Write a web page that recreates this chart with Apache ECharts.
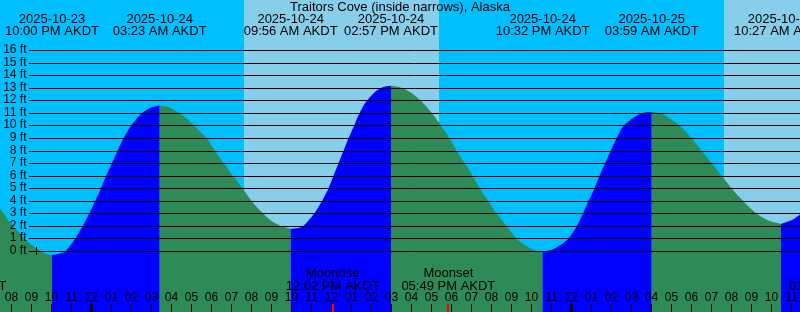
<!DOCTYPE html>
<html><head><meta charset="utf-8">
<script src="https://cdn.jsdelivr.net/npm/echarts@6/dist/echarts.min.js"></script>
<style>html,body{margin:0;padding:0;background:#00BFFF}#c{width:800px;height:312px}</style>
</head><body><div id="c"></div>
<script>
// ---- data (hours relative to 2025-10-24 00:00 AKDT, heights in ft) ----
const chartTitle = 'Traitors Cove (inside narrows), Alaska';
const tideHours = [-4.6,-4.1,-3.6,-3.1,-2.6,-2.3,-1.7,-1.35,-0.85,-0.47,-0.14,0.15,0.44,0.7,0.99,1.27,1.57,1.94,2.45,2.9,
  3.9,4.4,4.9,5.4,5.75,6.15,6.6,7.05,7.54,7.99,8.57,9.0,9.49,
  10.3,10.55,11.1,11.49,11.82,12.07,12.32,12.57,12.82,13.1,13.37,13.74,14.4,
  15.4,15.9,16.45,17.0,17.46,17.88,18.24,18.65,19.04,19.4,19.82,20.24,20.74,21.24,21.8,22.2,
  23.0,23.4,23.8,24.24,24.54,24.82,25.12,25.37,25.65,25.93,26.22,26.57,27.4,
  28.5,29.4,29.99,30.49,30.99,31.49,31.99,32.57,33.24,33.85,
  35.0,35.4];
const tideFeet = [3.45,2.33,1.41,0.61,0.08,-0.18,-0.2,0.0,1.0,2.0,3.0,4.0,5.0,6.0,7.0,8.0,9.0,10.0,10.95,11.42,
  11.45,10.98,10.35,9.55,9.0,8.0,7.0,6.0,5.0,4.0,3.0,2.4,2.0,
  1.87,2.0,3.0,4.0,5.0,6.0,7.0,8.0,9.0,10.0,11.0,12.0,13.0,
  13.08,12.7,12.0,11.0,10.0,9.0,8.0,7.0,6.0,5.0,4.0,3.0,2.0,1.0,0.35,0.05,
  0.15,0.5,1.0,2.0,3.0,4.0,5.0,6.0,7.0,8.0,9.0,10.0,10.95,
  10.95,10.0,9.0,8.0,7.0,6.0,5.0,4.0,3.0,2.45,
  2.5,2.95];
const extremeHours = [-2.0, 3.383, 9.933, 14.95, 22.533, 27.983, 34.45];
const extremeFeet  = [-0.28, 11.62, 1.8, 13.2, -0.05, 11.1, 2.2];
const extremeDates = ['2025-10-23','2025-10-24','2025-10-24','2025-10-24','2025-10-24','2025-10-25','2025-10-25'];
const extremeTimes = ['10:00 PM AKDT','03:23 AM AKDT','09:56 AM AKDT','02:57 PM AKDT','10:32 PM AKDT','03:59 AM AKDT','10:27 AM AKDT'];
const dayStartHours = [7.6, 31.6];
const dayEndHours   = [17.35, 41.3];
const levelFeet = [0,1,2,3,4,5,6,7,8,9,10,11,12,13,14,15,16];
const hourTicks = [-4,-3,-2,-1,0,1,2,3,4,5,6,7,8,9,10,11,12,13,14,15,16,17,18,19,20,21,22,23,24,25,26,27,28,29,30,31,32,33,34,35];
const hourLabels = ['08','09','10','11','12','01','02','03','04','05','06','07','08','09','10','11',
  '12','01','02','03','04','05','06','07','08','09','10','11',
  '12','01','02','03','04','05','06','07','08','09','10','11'];
const midnightHours = [0, 24];
const moonHours = [-6.63, 12.033, 17.817, 37.2];
const moonNames = ['Moonset','Moonrise','Moonset','Moonrise'];
const moonTimes = ['05:22 PM AKDT','12:02 PM AKDT','05:49 PM AKDT','01:12 PM AKDT'];
const markerHours = [-2.775];

// ---- styles ----
const FONT = '"Liberation Sans", Arial, sans-serif';
const NIGHT = '#00BFFF', DAY = '#87CEEB', RISE = '#0000FF', FALL = '#2E8B57';
function txt(x, y, s, size, align) {
  return {type:'text', x:x, y:y, style:{text:s, fill:'#000', font:size+'px '+FONT, align:align||'center', verticalAlign:'middle'}};
}

// build tide segments (rising = blue, falling = green)
const pts = tideHours.map((h,i)=>[h, tideFeet[i]])
  .concat(extremeHours.map((h,i)=>[h, extremeFeet[i]]))
  .sort((a,b)=>a[0]-b[0]);
const bps = [pts[0][0]].concat(extremeHours, [pts[pts.length-1][0]]);
const tideSeries = [];
for (let i = 0; i < bps.length-1; i++) {
  const seg = pts.filter(p => p[0] >= bps[i] && p[0] <= bps[i+1]);
  const rising = seg[seg.length-1][1] > seg[0][1];
  tideSeries.push({
    type:'line', data: seg, showSymbol:false, symbol:'none', smooth:0.3, z:2, silent:true,
    lineStyle:{width:0, opacity:0},
    areaStyle:{color: rising ? RISE : FALL, opacity:1, origin:'start'}
  });
}

const chart = echarts.init(document.getElementById('c'), null, {width:800, height:312});
chart.setOption({
  animation:false,
  backgroundColor: NIGHT,
  title:{text:chartTitle, left:'center', top:1, padding:0,
    textStyle:{fontFamily:FONT, fontSize:13, fontWeight:'normal', color:'#000'}},
  grid:{left:0, right:0, top:0, bottom:0, containLabel:false},
  xAxis:{type:'value', min:-4.6, max:35.4, show:false},
  yAxis:{type:'value', min:-4.816, max:20.02, show:false},
  series: [
    { // daylight bands
      type:'custom', z:1, silent:true, clip:false,
      data: dayStartHours.map((s,i)=>[s, dayEndHours[i]]),
      renderItem:(p, api)=>{
        const x1 = api.coord([api.value(0),0])[0], x2 = api.coord([api.value(1),0])[0];
        return {type:'rect', shape:{x:Math.round(x1), y:0, width:Math.round(x2)-Math.round(x1), height:312}, style:{fill:DAY}};
      }
    }
  ].concat(tideSeries, [
    { // level lines + labels
      type:'custom', z:3, silent:true, clip:false,
      data: levelFeet.map(k=>[0,k]),
      renderItem:(p, api)=>{
        const k = api.value(1);
        const y = Math.floor(api.coord([0,k])[1]) + 0.5;
        return {type:'group', children:[
          {type:'line', shape:{x1:29, y1:y, x2:800, y2:y}, style:{stroke:'#000', lineWidth:1}},
          txt(26.5, y-1, k+' ft', 12, 'right')
        ]};
      }
    },
    { // marker
      type:'custom', z:3, silent:true, clip:false,
      data: markerHours.map(h=>[h,0]),
      renderItem:(p, api)=>{
        const c = api.coord([api.value(0),0]);
        const x = Math.round(c[0]) - 0.5;
        return {type:'line', shape:{x1:x, y1:c[1]-4.5, x2:x, y2:c[1]+3.5}, style:{stroke:'#000', lineWidth:1}};
      }
    },
    { // hour ticks + labels
      type:'custom', z:4, silent:true, clip:false,
      data: hourTicks.map((h,i)=>[h,i]),
      renderItem:(p, api)=>{
        const h = api.value(0), i = api.value(1);
        const x = Math.round(api.coord([h,0])[0]) - 0.5;
        const mid = midnightHours.indexOf(h) >= 0;
        return {type:'group', children:[
          {type:'line', shape:{x1:x, y1:304, x2:x, y2:312}, style:{stroke:'#000', lineWidth: mid?3:1}},
          txt(x, 297.5, hourLabels[i], 12)
        ]};
      }
    },
    { // moon events
      type:'custom', z:5, silent:true, clip:false,
      data: moonHours.map((h,i)=>[h,i]),
      renderItem:(p, api)=>{
        const h = api.value(0), i = api.value(1);
        const px = api.coord([h,0])[0];
        const x = Math.round(px);
        return {type:'group', children:[
          {type:'line', shape:{x1:x, y1:304, x2:x, y2:312}, style:{stroke:'#FF0000', lineWidth:2}},
          txt(px, 273.5, moonNames[i], 13),
          txt(px, 286, moonTimes[i], 13)
        ]};
      }
    },
    { // tide extreme labels
      type:'custom', z:5, silent:true, clip:false,
      data: extremeHours.map((h,i)=>[h,i]),
      renderItem:(p, api)=>{
        const h = api.value(0), i = api.value(1);
        const px = api.coord([h,0])[0];
        return {type:'group', children:[
          txt(px, 19.5, extremeDates[i], 13),
          txt(px, 31.5, extremeTimes[i], 13)
        ]};
      }
    }
  ])
});
</script>
</body></html>
